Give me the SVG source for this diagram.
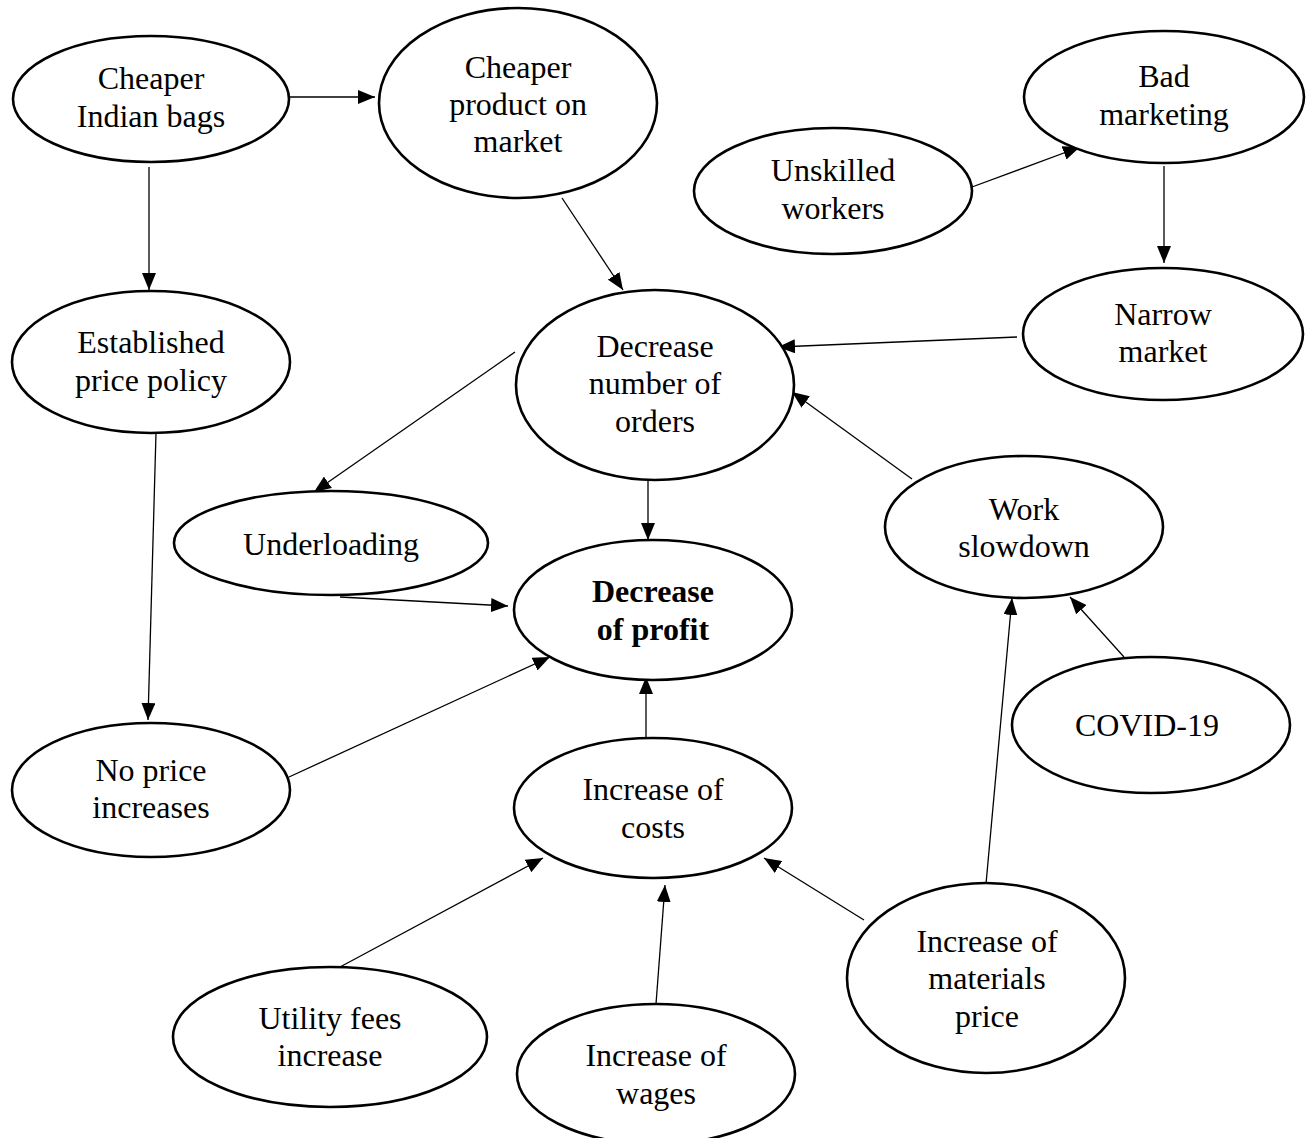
<svg xmlns="http://www.w3.org/2000/svg" width="1311" height="1138" viewBox="0 0 1311 1138">
<style>
.n ellipse{fill:#fff;stroke:#000;stroke-width:2.6}
.n text{font-family:"Liberation Serif","Times New Roman",serif;font-size:32px;fill:#000;text-anchor:middle}
.n text.b{font-weight:bold}
.c line{stroke:#000;stroke-width:1.3;marker-end:url(#ah)}
</style>
<defs>
<marker id="ah" markerUnits="userSpaceOnUse" markerWidth="18" markerHeight="14" refX="17" refY="7" orient="auto">
<path d="M0,0 L17,7 L0,14 z" fill="#000"/>
</marker>
</defs>
<rect width="1311" height="1138" fill="#fff"/>
<g id="connectors" class="c">
<line x1="290" y1="97" x2="375" y2="97"/>
<line x1="149" y1="167" x2="149" y2="290"/>
<line x1="562" y1="198" x2="623" y2="290"/>
<line x1="972" y1="187" x2="1080" y2="147"/>
<line x1="1164" y1="166" x2="1164" y2="263"/>
<line x1="1017" y1="337" x2="778" y2="347"/>
<line x1="912" y1="479" x2="792" y2="392"/>
<line x1="515" y1="352" x2="314" y2="492"/>
<line x1="648" y1="480" x2="648" y2="540"/>
<line x1="340" y1="597" x2="508" y2="606"/>
<line x1="156" y1="433" x2="148" y2="720"/>
<line x1="289" y1="777" x2="550" y2="657"/>
<line x1="646" y1="738" x2="646" y2="677"/>
<line x1="340" y1="967" x2="543" y2="858"/>
<line x1="656" y1="1004" x2="665" y2="885"/>
<line x1="864" y1="920" x2="764" y2="858"/>
<line x1="986" y1="884" x2="1012" y2="598"/>
<line x1="1124" y1="657" x2="1070" y2="597"/>
</g>
<g id="cheaper-indian-bags" class="n"><ellipse cx="151" cy="99" rx="138" ry="63"/><text x="151" y="89">Cheaper</text><text x="151" y="127">Indian bags</text></g>
<g id="cheaper-product" class="n"><ellipse cx="518" cy="103" rx="139" ry="95"/><text x="518" y="78">Cheaper</text><text x="518" y="115">product on</text><text x="518" y="152">market</text></g>
<g id="bad-marketing" class="n"><ellipse cx="1164" cy="97" rx="140" ry="66"/><text x="1164" y="87">Bad</text><text x="1164" y="125">marketing</text></g>
<g id="unskilled-workers" class="n"><ellipse cx="833" cy="191" rx="139" ry="63"/><text x="833" y="181">Unskilled</text><text x="833" y="219">workers</text></g>
<g id="narrow-market" class="n"><ellipse cx="1163" cy="334" rx="140" ry="66"/><text x="1163" y="325">Narrow</text><text x="1163" y="362">market</text></g>
<g id="established-price-policy" class="n"><ellipse cx="151" cy="362" rx="139" ry="71"/><text x="151" y="353">Established</text><text x="151" y="391">price policy</text></g>
<g id="decrease-orders" class="n"><ellipse cx="655" cy="385" rx="139" ry="95"/><text x="655" y="357">Decrease</text><text x="655" y="394">number of</text><text x="655" y="432">orders</text></g>
<g id="underloading" class="n"><ellipse cx="331" cy="543" rx="157" ry="52"/><text x="331" y="555">Underloading</text></g>
<g id="decrease-profit" class="n"><ellipse cx="653" cy="610" rx="139" ry="70"/><text class="b" x="653" y="602">Decrease</text><text class="b" x="653" y="640">of profit</text></g>
<g id="work-slowdown" class="n"><ellipse cx="1024" cy="527" rx="139" ry="71"/><text x="1024" y="520">Work</text><text x="1024" y="557">slowdown</text></g>
<g id="covid-19" class="n"><ellipse cx="1151" cy="725" rx="139" ry="68"/><text x="1147" y="736">COVID-19</text></g>
<g id="no-price-increases" class="n"><ellipse cx="151" cy="790" rx="139" ry="67"/><text x="151" y="781">No price</text><text x="151" y="818">increases</text></g>
<g id="increase-costs" class="n"><ellipse cx="653" cy="808" rx="139" ry="70"/><text x="653" y="800">Increase of</text><text x="653" y="838">costs</text></g>
<g id="increase-materials-price" class="n"><ellipse cx="986" cy="978" rx="139" ry="95"/><text x="987" y="952">Increase of</text><text x="987" y="989">materials</text><text x="987" y="1027">price</text></g>
<g id="utility-fees-increase" class="n"><ellipse cx="330" cy="1037" rx="157" ry="70"/><text x="330" y="1029">Utility fees</text><text x="330" y="1066">increase</text></g>
<g id="increase-wages" class="n"><ellipse cx="656" cy="1074" rx="139" ry="70"/><text x="656" y="1066">Increase of</text><text x="656" y="1104">wages</text></g>
</svg>
